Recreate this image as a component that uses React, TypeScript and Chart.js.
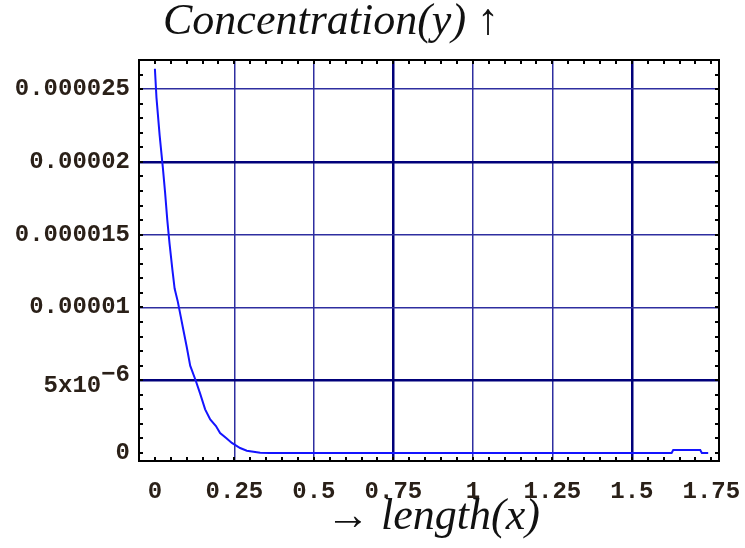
import React, { useEffect, useRef } from 'react';
import { Chart, registerables } from 'chart.js';

Chart.register(...registerables);

// ---- data ----
const LENGTH_X = [
  0, 0.005, 0.015, 0.025, 0.032, 0.039, 0.046, 0.055, 0.062, 0.072, 0.081, 0.09, 0.1, 0.111,
  0.128, 0.142, 0.158, 0.174, 0.192, 0.205, 0.224, 0.242, 0.268, 0.289, 0.331, 0.36,
  1.625, 1.63, 1.715, 1.72, 1.74,
];
const CONCENTRATION_Y = [
  26.4e-6, 24.4e-6, 21.8e-6, 19.6e-6, 17.9e-6, 16.0e-6, 14.4e-6, 12.6e-6, 11.3e-6, 10.4e-6,
  9.4e-6, 8.4e-6, 7.3e-6, 6.0e-6, 5.0e-6, 4.1e-6, 3.0e-6, 2.3e-6, 1.85e-6, 1.37e-6, 1.03e-6,
  0.69e-6, 0.34e-6, 0.16e-6, 0.02e-6, 0,
  0, 0.2e-6, 0.2e-6, 0, 0,
];

const X_TICKS = [0, 0.25, 0.5, 0.75, 1, 1.25, 1.5, 1.75];
const X_TICK_LABELS = ['0', '0.25', '0.5', '0.75', '1', '1.25', '1.5', '1.75'];
const Y_TICKS = [0, 5e-6, 10e-6, 15e-6, 20e-6, 25e-6];
const Y_TICK_LABELS: (string | string[])[] = ['0', ['\u22126', '5x10  '], '0.00001', '0.000015', '0.00002', '0.000025'];

const X_GRID = [0.25, 0.5, 0.75, 1, 1.25, 1.5];
const Y_GRID = [5e-6, 10e-6, 15e-6, 20e-6, 25e-6];
const STRONG_X = [0.75, 1.5];
const STRONG_Y = [5e-6, 20e-6];

const X_MIN = -0.05;
const X_MAX = 1.774;
const Y_MIN = -0.55e-6;
const Y_MAX = 27e-6;
const X_MINOR_STEP = 0.05;
const Y_MINOR_STEP = 1e-6;

const TITLE_TOP = 'Concentration(y) \u2191';
const TITLE_BOTTOM = '\u2192 length(x)';

const near = (a: number, list: number[], eps: number) => list.some((v) => Math.abs(v - a) < eps);

const MONO = "'Liberation Mono', 'DejaVu Sans Mono', monospace";
const TICK_COLOR = '#2a2018';
const GRID_THIN = '#2e2ea0';
const GRID_STRONG = '#00007a';

const framePlugin = {
  id: 'frameAndTitles',
  afterDraw(chart: any) {
    const { ctx, chartArea, scales } = chart;
    const { left, right, top, bottom } = chartArea;
    const x = scales.x;
    const y = scales.y;
    ctx.save();
    ctx.strokeStyle = '#000';
    ctx.lineWidth = 2;
    ctx.strokeRect(left, top, right - left, bottom - top);
    ctx.beginPath();
    const len = 4;
    for (let i = Math.ceil(X_MIN / X_MINOR_STEP); i * X_MINOR_STEP <= X_MAX; i++) {
      const v = i * X_MINOR_STEP;
      const px = Math.round(x.getPixelForValue(v));
      ctx.moveTo(px, bottom);
      ctx.lineTo(px, bottom - len);
      ctx.moveTo(px, top);
      ctx.lineTo(px, top + len);
    }
    for (let i = Math.ceil(Y_MIN / Y_MINOR_STEP); i * Y_MINOR_STEP <= Y_MAX; i++) {
      const v = i * Y_MINOR_STEP;
      const py = Math.round(y.getPixelForValue(v));
      ctx.moveTo(left, py);
      ctx.lineTo(left + len, py);
      ctx.moveTo(right, py);
      ctx.lineTo(right - len, py);
    }
    ctx.stroke();

    ctx.fillStyle = '#111';
    ctx.textBaseline = 'alphabetic';
    ctx.textAlign = 'left';
    ctx.font = "italic 44px 'Liberation Serif', 'DejaVu Serif', serif";
    ctx.fillText(TITLE_TOP, 163, 34);
    ctx.fillText(TITLE_BOTTOM, 326, 529);
    ctx.restore();
  },
};

export default function App() {
  const ref = useRef<HTMLCanvasElement | null>(null);

  useEffect(() => {
    if (!ref.current) return;
    const points = LENGTH_X.map((xv, i) => ({ x: xv, y: CONCENTRATION_Y[i] }));
    const chart = new Chart(ref.current, {
      type: 'line',
      data: {
        datasets: [
          {
            data: points,
            borderColor: '#1414ff',
            borderWidth: 2,
            pointRadius: 0,
            tension: 0,
            fill: false,
          },
        ],
      },
      options: {
        animation: false,
        responsive: false,
        layout: { padding: { top: 60, right: 26, bottom: 0, left: 0 } },
        plugins: { legend: { display: false }, tooltip: { enabled: false }, title: { display: false } },
        scales: {
          x: {
            type: 'linear',
            min: X_MIN,
            max: X_MAX,
            afterBuildTicks: (s: any) => {
              s.ticks = X_TICKS.map((v) => ({ value: v }));
            },
            afterFit: (s: any) => {
              s.height = 87;
              s.paddingLeft = 0;
              s.paddingRight = 0;
              s.paddingTop = 0;
              s.paddingBottom = 0;
            },
            border: { display: false },
            grid: {
              drawTicks: false,
              color: (c: any) => {
                const v = c.tick ? c.tick.value : NaN;
                if (!near(v, X_GRID, 1e-6)) return 'rgba(0,0,0,0)';
                return near(v, STRONG_X, 1e-6) ? GRID_STRONG : GRID_THIN;
              },
              lineWidth: (c: any) => {
                const v = c.tick ? c.tick.value : NaN;
                return near(v, STRONG_X, 1e-6) ? 2.5 : 1.5;
              },
            },
            ticks: {
              autoSkip: false,
              maxRotation: 0,
              padding: 17,
              font: { family: MONO, size: 24, weight: 'bold' },
              color: TICK_COLOR,
              callback: (v: any) => {
                const i = X_TICKS.findIndex((t) => Math.abs(t - Number(v)) < 1e-6);
                return i >= 0 ? X_TICK_LABELS[i] : '';
              },
            },
          },
          y: {
            type: 'linear',
            min: Y_MIN,
            max: Y_MAX,
            afterBuildTicks: (s: any) => {
              s.ticks = Y_TICKS.map((v) => ({ value: v }));
            },
            afterFit: (s: any) => {
              s.width = 139;
              s.paddingLeft = 0;
              s.paddingRight = 0;
              s.paddingTop = 0;
              s.paddingBottom = 0;
            },
            border: { display: false },
            grid: {
              drawTicks: false,
              color: (c: any) => {
                const v = c.tick ? c.tick.value : NaN;
                if (!near(v, Y_GRID, 1e-12)) return 'rgba(0,0,0,0)';
                return near(v, STRONG_Y, 1e-12) ? GRID_STRONG : GRID_THIN;
              },
              lineWidth: (c: any) => {
                const v = c.tick ? c.tick.value : NaN;
                return near(v, STRONG_Y, 1e-12) ? 2.5 : 1.5;
              },
            },
            ticks: {
              autoSkip: false,
              padding: 9,
              font: { family: MONO, size: 24, weight: 'bold', lineHeight: 0.45 },
              color: TICK_COLOR,
              callback: (v: any) => {
                const i = Y_TICKS.findIndex((t) => Math.abs(t - Number(v)) < 1e-12);
                return i >= 0 ? Y_TICK_LABELS[i] : '';
              },
            },
          },
        },
      },
      plugins: [framePlugin],
    });
    return () => chart.destroy();
  }, []);

  return (
    <div style={{ position: 'absolute', left: 0, top: 0, width: 745, height: 548, background: '#fff' }}>
      <canvas ref={ref} width={745} height={548} style={{ display: 'block' }} />
    </div>
  );
}
